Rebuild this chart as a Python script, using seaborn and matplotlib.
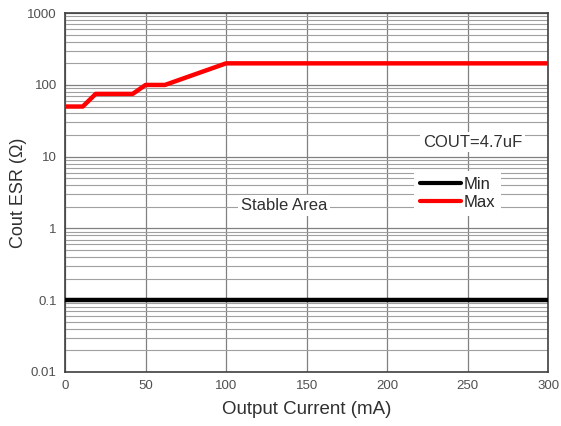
import numpy as np
import pandas as pd
import matplotlib
matplotlib.use("Agg")
import matplotlib.pyplot as plt
import seaborn as sns
from matplotlib.lines import Line2D

# data
current_max = [0, 11, 19, 42, 50, 62, 100, 300]
esr_max = [50, 50, 75, 75, 100, 100, 200, 200]
current_min = [0, 300]
esr_min = [0.1, 0.1]

df = pd.concat([
    pd.DataFrame({"Output Current (mA)": current_min, "ESR": esr_min, "series": "Min"}),
    pd.DataFrame({"Output Current (mA)": current_max, "ESR": esr_max, "series": "Max"}),
])

sns.set_style("white")
plt.rcParams["font.family"] = ["Liberation Sans", "DejaVu Sans"]

fig = plt.figure(figsize=(5.61, 4.26), dpi=100)
ax = fig.add_axes([0.116, 0.127, 0.861, 0.842])

ax.set_yscale("log")
ax.set_xlim(0, 300)
ax.set_ylim(0.01, 1000)
ax.set_xticks([0, 50, 100, 150, 200, 250, 300])
ax.set_yticks([0.01, 0.1, 1, 10, 100, 1000])
ax.set_yticklabels(["0.01", "0.1", "1", "10", "100", "1000"])
ax.yaxis.set_minor_locator(matplotlib.ticker.LogLocator(base=10, subs=np.arange(2, 10)))
ax.yaxis.set_minor_formatter(matplotlib.ticker.NullFormatter())
ax.grid(True, which="major", color="#808080", lw=0.9)
ax.grid(True, which="minor", axis="y", color="#a0a0a0", lw=0.8)
ax.tick_params(which="both", length=0, labelsize=9.5, colors="#505050", pad=6)

sns.lineplot(data=df, x="Output Current (mA)", y="ESR", hue="series",
             palette={"Min": "black", "Max": "#ff0000"}, linewidth=3.2,
             ax=ax, legend=False, zorder=3)

for s in ax.spines.values():
    s.set_color("#404040")
    s.set_linewidth(1.2)

ax.set_xlabel("Output Current (mA)", fontsize=13.5, color="#303030", labelpad=6)
ax.set_ylabel("Cout ESR (Ω)", fontsize=13, color="#303030", labelpad=0)

box = dict(facecolor="white", edgecolor="none", pad=2)
ax.text(253, 16, "COUT=4.7uF", fontsize=12, color="#303030", ha="center", va="center", bbox=box)
ax.text(136, 2.1, "Stable Area", fontsize=12, color="#303030", ha="center", va="center", bbox=box)

handles = [Line2D([], [], color="black", lw=3), Line2D([], [], color="#ff0000", lw=3)]
leg = ax.legend(handles, ["Min", "Max"], loc="upper left", bbox_to_anchor=(0.705, 0.583),
                frameon=True, fontsize=12, handlelength=2.5, handletextpad=0.15,
                labelspacing=0.2, borderpad=0.35, fancybox=False)
leg.get_frame().set_edgecolor("none")
leg.get_frame().set_facecolor("white")
leg.get_frame().set_alpha(1)

fig.savefig("out.png", dpi=100)
